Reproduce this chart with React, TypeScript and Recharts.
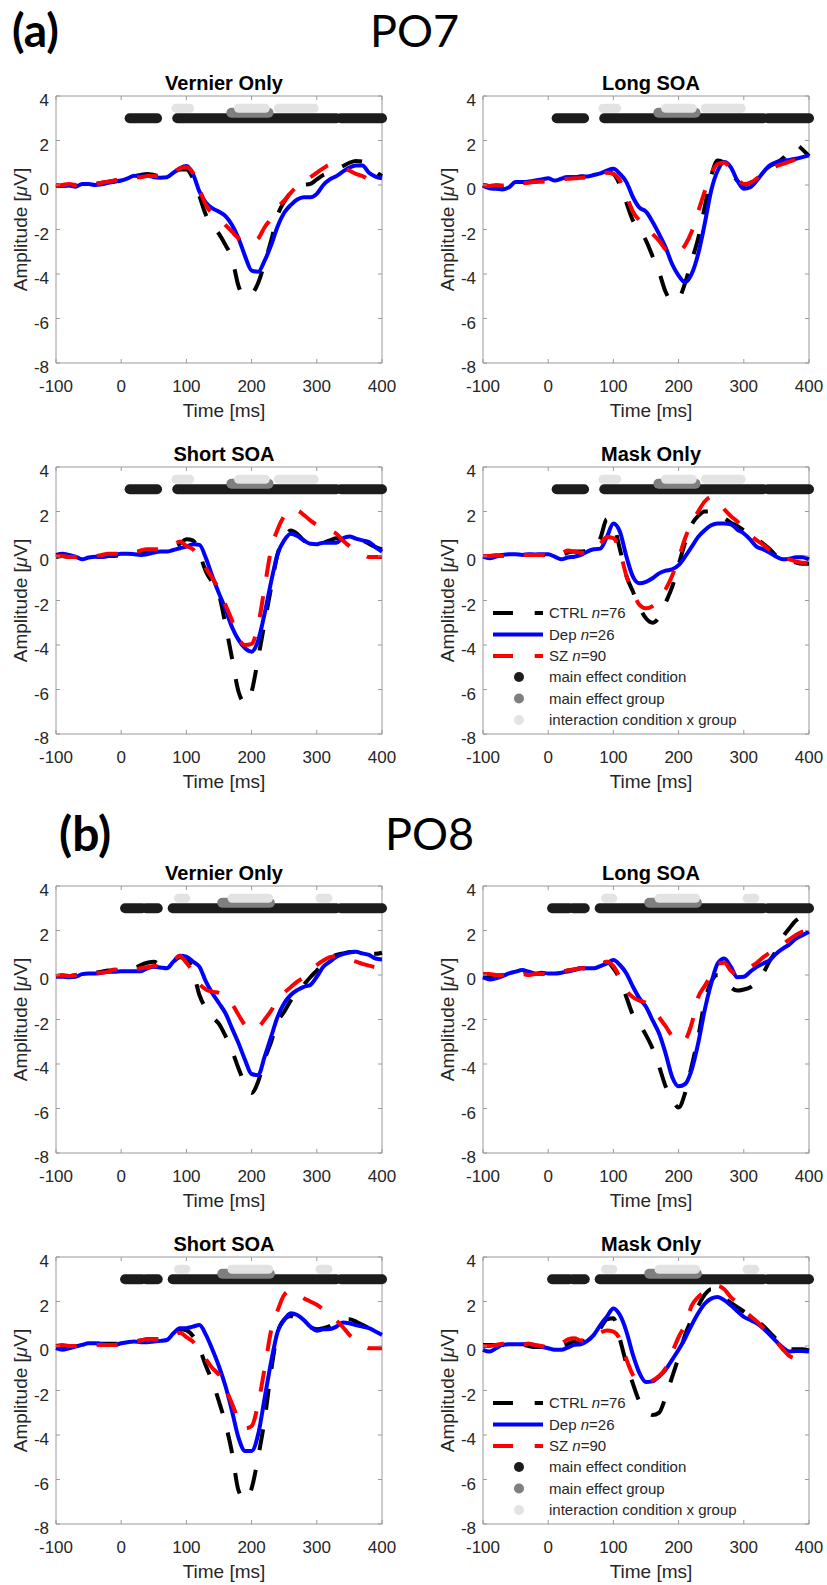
import React from "react";
import { LineChart, Line, XAxis, YAxis, ReferenceArea } from "recharts";

// time axis (ms), one sample every 10 ms
const TIME = [
  -100, -90, -80, -70, -60, -50, -40, -30, -20, -10,
  0, 10, 20, 30, 40, 50, 60, 70, 80, 90,
  100, 110, 120, 130, 140, 150, 160, 170, 180, 190,
  200, 210, 220, 230, 240, 250, 260, 270, 280, 290,
  300, 310, 320, 330, 340, 350, 360, 370, 380, 390,
  400,
];
const X_TICKS = [-100, 0, 100, 200, 300, 400];
const Y_TICKS = [-8, -6, -4, -2, 0, 2, 4];

// ---------- PO7 ----------
const po7VernierCtrl = [
  -0.05, -0.05, 0, -0.05, 0, 0.05, 0.05, 0.1, 0.15, 0.2,
  0.25, 0.3, 0.4, 0.45, 0.5, 0.45, 0.4, 0.4, 0.55, 0.7,
  0.7, 0.3, -0.5, -1.35, -1.8, -2.2, -2.7, -3.3, -4.55, -5.0,
  -4.9, -4.4, -3.5, -2.5, -1.35, -0.75, -0.35, -0.1, 0.0, 0.05,
  0.25, 0.45, 0.55, 0.7, 0.85, 1.0, 1.08, 1.05, 0.9, 0.6,
  0.4,
];
const po7VernierDep = [
  0, -0.05, -0.02, -0.08, 0.05, 0.05, 0, 0.03, 0.1, 0.15,
  0.2, 0.3, 0.42, 0.38, 0.42, 0.35, 0.33, 0.35, 0.55, 0.75,
  0.85, 0.5, -0.3, -0.8, -1.05, -1.2, -1.4, -1.8, -2.4, -3.2,
  -3.85, -3.9, -3.4, -2.7, -1.85, -1.25, -0.9, -0.65, -0.55, -0.55,
  -0.4, 0.0, 0.25, 0.4, 0.6, 0.78, 0.88, 0.88, 0.55, 0.38,
  0.3,
];
const po7VernierSz = [
  -0.05, 0, 0.05, 0, 0, 0.05, 0.05, 0.1, 0.15, 0.2,
  0.25, 0.3, 0.35, 0.35, 0.4, 0.4, 0.4, 0.4, 0.55, 0.75,
  0.8, 0.55, -0.2, -0.9, -1.3, -1.5, -1.8, -2.1, -2.4, -2.6,
  -2.55, -2.4, -1.9, -1.5, -1.0, -0.7, -0.35, -0.05, 0.15, 0.35,
  0.55, 0.75, 0.9, 0.9, 0.8, 0.65, 0.5, 0.4, 0.25, 0.1,
  0.05,
];

const po7LongCtrl = [
  0, -0.05, -0.1, -0.1, 0, 0.1, 0.1, 0.15, 0.15, 0.2,
  0.25, 0.25, 0.3, 0.35, 0.35, 0.38, 0.38, 0.42, 0.48, 0.6,
  0.5, 0.0, -0.8, -1.6, -2.0, -2.5, -3.2, -3.9, -4.8, -5.2,
  -5.1, -4.4, -3.4, -2.4, -1.0, 0.4, 1.1, 1.0, 0.6, 0.2,
  0.0, 0.1, 0.3, 0.6, 0.85, 1.0, 1.2, 1.55, 1.8, 1.6,
  1.3,
];
const po7LongDep = [
  -0.02, -0.15, -0.17, -0.2, -0.1, 0.13, 0.13, 0.15, 0.2, 0.25,
  0.3, 0.2, 0.28, 0.35, 0.35, 0.38, 0.38, 0.45, 0.52, 0.65,
  0.73, 0.5, 0.13, -0.55, -1.02, -1.2, -1.65, -2.2, -2.8, -3.55,
  -4.07, -4.37, -4.0, -3.1, -1.75, -0.25, 0.65, 1.03, 0.8, 0.2,
  -0.17, -0.1, 0.2, 0.58, 0.88, 1.03, 1.1, 1.13, 1.18, 1.25,
  1.33,
];
const po7LongSz = [
  0, -0.05, 0, -0.02, 0, 0.05, 0.08, 0.1, 0.15, 0.15,
  0.2, 0.2, 0.25, 0.28, 0.3, 0.32, 0.35, 0.4, 0.45, 0.55,
  0.5, 0.2, -0.5, -1.2, -1.6, -1.9, -2.2, -2.5, -2.9, -3.1,
  -3.0, -2.7, -2.1, -1.2, -0.3, 0.5, 0.95, 1.0, 0.7, 0.3,
  0.05, 0.1, 0.3, 0.5, 0.7, 0.85, 0.95, 1.05, 1.15, 1.25,
  1.3,
];

const po7ShortCtrl = [
  -0.05, 0, -0.05, -0.05, -0.05, 0, 0, 0, 0, 0,
  0.05, 0.1, 0.15, 0.2, 0.2, 0.2, 0.25, 0.3, 0.4, 0.55,
  0.75, 0.7, 0.1, -0.7, -1.2, -1.75, -3.1, -4.6, -6.1, -6.6,
  -6.1, -4.6, -3.0, -1.4, 0.1, 0.8, 1.15, 1.0, 0.7, 0.55,
  0.55, 0.6, 0.7, 0.8, 0.75, 0.7, 0.75, 0.7, 0.55, 0.4,
  0.3,
];
const po7ShortDep = [
  0.05, 0.1, 0.05, -0.03, -0.15, -0.07, -0.03, -0.05, 0, 0.05,
  0.1, 0.1, 0.08, 0.05, 0.08, 0.15, 0.2, 0.2, 0.27, 0.35,
  0.42, 0.53, 0.5, -0.1, -0.93, -1.68, -2.4, -3.2, -3.77, -4.15,
  -4.3, -3.8, -2.58, -1.15, 0.1, 0.7, 1.0, 0.9, 0.7, 0.55,
  0.53, 0.6, 0.6, 0.6, 0.8, 0.88, 0.78, 0.7, 0.63, 0.4,
  0.2,
];
const po7ShortSz = [
  0, 0, -0.05, -0.05, -0.05, 0, 0, 0.05, 0.1, 0.1,
  0.1, 0.1, 0.15, 0.25, 0.3, 0.3, 0.3, 0.35, 0.5, 0.65,
  0.45, 0.3, -0.1, -0.55, -1.0, -1.5, -2.2, -2.9, -3.7, -4.0,
  -3.95, -3.1, -1.4, 0.3, 1.2, 1.8, 2.1, 2.05, 1.85, 1.6,
  1.4, 1.3, 1.15, 1.0, 0.7, 0.45, 0.3, 0.1, -0.05, -0.05,
  -0.05,
];

const po7MaskCtrl = [
  0, 0, 0, 0.05, 0.05, 0.05, 0.05, 0.05, 0.05, 0.05,
  0.05, 0.0, 0.05, 0.15, 0.2, 0.2, 0.25, 0.35, 0.8, 1.65,
  1.4, 0.3, -0.9, -1.6, -2.3, -2.8, -3.0, -2.75, -2.1, -1.4,
  -0.4, 0.6, 1.4, 1.8, 2.0, 2.0, 1.9, 1.7, 1.5, 1.35,
  1.15, 0.95, 0.75, 0.55, 0.3, 0.0, -0.15, -0.2, -0.3, -0.35,
  -0.35,
];
const po7MaskDep = [
  -0.03, -0.1, -0.03, 0.05, 0.08, 0.08, 0.05, 0.08, 0.07, 0.08,
  0.08, -0.03, -0.15, -0.07, -0.03, 0.05, 0.2, 0.3, 0.33, 0.86,
  1.46, 1.09, -0.03, -0.93, -1.23, -1.16, -1.0, -0.78, -0.66, -0.6,
  -0.41, -0.03, 0.41, 0.86, 1.16, 1.38, 1.46, 1.46, 1.43, 1.19,
  1.01, 0.74, 0.41, 0.3, 0.15, -0.03, -0.15, -0.12, -0.06, -0.06,
  -0.15,
];
const po7MaskSz = [
  0, 0, 0.05, 0, 0.05, 0.05, 0.05, 0.05, 0.05, 0.05,
  0.0, 0.0, 0.1, 0.25, 0.2, 0.15, 0.15, 0.25, 0.55, 0.85,
  0.8, 0.2, -0.9, -1.6, -2.2, -2.35, -2.25, -1.95, -1.5, -0.9,
  -0.1, 0.8, 1.5, 2.0, 2.45, 2.65, 2.5, 2.1, 1.8, 1.55,
  1.25, 0.95, 0.7, 0.5, 0.25, 0.0, -0.1, -0.15, -0.25, -0.3,
  -0.3,
];

// ---------- PO8 ----------
const po8VernierCtrl = [
  -0.05, -0.05, -0.05, 0, 0.05, 0.05, 0.1, 0.15, 0.2, 0.2,
  0.2, 0.2, 0.3, 0.45, 0.55, 0.6, 0.45, 0.4, 0.6, 0.8,
  0.7, 0.2, -0.9, -1.5, -1.9, -2.2, -2.75, -3.4, -4.2, -4.9,
  -5.3, -4.8, -3.8, -3.0, -2.1, -1.65, -1.15, -0.8, -0.45, -0.1,
  0.2, 0.5, 0.75, 0.9, 0.97, 1.03, 1.05, 1.0, 0.95, 0.95,
  1.0,
];
const po8VernierDep = [
  -0.08, -0.08, -0.1, -0.08, 0.04, 0.07, 0.07, 0.1, 0.15, 0.15,
  0.17, 0.17, 0.17, 0.17, 0.3, 0.37, 0.34, 0.3, 0.6, 0.86,
  0.82, 0.6, 0.37, -0.3, -0.83, -1.27, -1.72, -2.4, -3.07, -3.82,
  -4.45, -4.5, -3.67, -2.77, -1.87, -1.27, -0.9, -0.68, -0.53, -0.45,
  -0.08, 0.37, 0.6, 0.82, 0.94, 1.01, 1.04, 0.97, 0.9, 0.74,
  0.7,
];
const po8VernierSz = [
  -0.05, 0, -0.05, 0, 0.05, 0.05, 0.1, 0.1, 0.15, 0.25,
  0.2, 0.2, 0.25, 0.3, 0.35, 0.4, 0.4, 0.45, 0.65, 0.85,
  0.55, 0.15, -0.4, -0.65, -0.75, -0.8, -0.95, -1.3, -1.8, -2.25,
  -2.45, -2.35, -2.0, -1.6, -1.1, -0.8, -0.55, -0.3, -0.1, 0.2,
  0.45, 0.65, 0.8, 0.85, 0.8, 0.7, 0.6, 0.5, 0.42, 0.35,
  0.3,
];

const po8LongCtrl = [
  -0.1, -0.1, -0.05, 0, 0.05, 0.1, 0.15, 0.1, 0.05, 0.05,
  0.05, 0.1, 0.15, 0.2, 0.25, 0.3, 0.3, 0.35, 0.45, 0.6,
  0.3, -0.2, -1.0, -1.8, -2.2, -2.7, -3.3, -4.1, -5.0, -5.6,
  -5.95, -5.3, -4.1, -2.8, -1.2, -0.3, 0.0, -0.2, -0.55, -0.7,
  -0.65, -0.55, -0.3, 0.1, 0.65, 1.1, 1.7, 2.1, 2.45, 2.6,
  2.6,
];
const po8LongDep = [
  -0.1, -0.2, -0.15, -0.05, 0.07, 0.15, 0.22, 0.15, 0.07, 0.1,
  0.07, 0.07, 0.1, 0.15, 0.22, 0.3, 0.3, 0.3, 0.4, 0.52,
  0.67, 0.45, 0.07, -0.53, -1.05, -1.43, -2.03, -2.62, -3.52, -4.57,
  -5.0, -4.9, -4.26, -3.07, -1.58, -0.38, 0.52, 0.74, 0.37, -0.1,
  -0.08, 0.15, 0.37, 0.52, 0.67, 0.97, 1.19, 1.38, 1.64, 1.79,
  1.94,
];
const po8LongSz = [
  0.05, 0.05, 0, 0, 0.05, 0.05, 0.05, 0.0, 0.05, 0.05,
  0.05, 0.1, 0.15, 0.2, 0.25, 0.3, 0.3, 0.35, 0.45, 0.6,
  0.4, -0.1, -0.7, -1.0, -1.15, -1.25, -1.5, -1.9, -2.3, -2.75,
  -3.0, -2.9, -2.2, -1.0, -0.5, 0.0, 0.5, 0.55, 0.2, 0.02,
  0.15, 0.35, 0.55, 0.8, 1.0, 1.2, 1.4, 1.6, 1.8, 1.95,
  2.0,
];

const po8ShortCtrl = [
  -0.1, -0.05, 0, 0, 0.05, 0.1, 0.12, 0.1, 0.1, 0.1,
  0.12, 0.15, 0.2, 0.25, 0.3, 0.3, 0.3, 0.35, 0.5, 0.75,
  0.7, 0.45, -0.1, -0.9, -1.6, -2.5, -3.5, -4.8, -6.5, -6.9,
  -6.4, -5.0, -3.3, -1.1, 0.6, 1.2, 1.35, 1.2, 1.05, 0.85,
  0.75, 0.8, 0.9, 1.1, 1.2, 1.2, 1.1, 0.95, 0.8, 0.65,
  0.5,
];
const po8ShortDep = [
  -0.1, -0.17, -0.1, -0.03, 0.05, 0.12, 0.12, 0.08, 0.05, 0.05,
  0.12, 0.17, 0.2, 0.17, 0.17, 0.2, 0.23, 0.27, 0.57, 0.8,
  0.8, 0.87, 0.94, 0.5, -0.17, -0.92, -1.81, -2.93, -4.13, -4.72,
  -4.72, -3.98, -2.34, -0.7, 0.65, 1.17, 1.47, 1.39, 1.17, 0.87,
  0.69, 0.75, 0.76, 0.87, 1.06, 1.02, 0.94, 0.87, 0.8, 0.65,
  0.5,
];
const po8ShortSz = [
  0.0, 0.05, 0.0, 0.0, 0.05, 0.05, 0.05, 0.05, 0.05, 0.05,
  0.1, 0.15, 0.2, 0.25, 0.3, 0.3, 0.3, 0.35, 0.45, 0.6,
  0.4, 0.2, -0.2, -0.6, -1.0, -1.3, -1.9, -2.6, -3.3, -3.7,
  -3.6, -2.6, -1.0, 0.7, 1.6, 2.3, 2.5, 2.35, 2.15, 2.0,
  1.85, 1.65, 1.45, 1.15, 0.85, 0.5, 0.25, 0.05, -0.1, -0.1,
  -0.1,
];

const po8MaskCtrl = [
  0.05, 0.05, 0.05, 0.05, 0.05, 0.05, 0.05, 0.0, -0.05, -0.05,
  -0.05, -0.05, 0.0, 0.1, 0.2, 0.2, 0.3, 0.5, 0.8, 1.2,
  1.25, 0.3, -0.8, -1.7, -2.5, -2.9, -3.1, -3.0, -2.3, -1.4,
  -0.5, 0.5, 1.2, 1.8, 2.3, 2.55, 2.45, 2.15, 1.95, 1.75,
  1.55, 1.35, 1.15, 0.9, 0.6, 0.3, 0.0, -0.15, -0.15, -0.15,
  -0.2,
];
const po8MaskDep = [
  -0.17, -0.25, -0.1, 0.05, 0.08, 0.08, 0.08, 0.1, 0.02, -0.03,
  -0.1, -0.17, -0.17, -0.07, 0.05, 0.08, 0.23, 0.5, 0.94, 1.32,
  1.69, 1.39, 0.65, -0.4, -1.22, -1.62, -1.59, -1.37, -1.07, -0.62,
  -0.17, 0.35, 0.94, 1.47, 1.9, 2.13, 2.2, 2.06, 1.83, 1.56,
  1.31, 1.17, 1.02, 0.79, 0.5, 0.2, -0.07, -0.25, -0.22, -0.22,
  -0.25,
];
const po8MaskSz = [
  0.0, 0.0, 0.05, 0.1, 0.1, 0.05, 0.05, 0.1, 0.05, 0.0,
  -0.05, 0.0, 0.1, 0.3, 0.35, 0.25, 0.3, 0.45, 0.6, 0.7,
  0.65, 0.3, -0.6, -1.3, -1.55, -1.65, -1.55, -1.35, -1.0, -0.3,
  0.4, 0.95, 1.8, 2.2, 2.45, 2.65, 2.7, 2.55, 2.2, 1.95,
  1.6, 1.35, 1.1, 0.8, 0.5, 0.2, -0.15, -0.45, -0.55, -0.5,
  -0.45,
];

// significant time windows [start, end] in ms
const po7Condition = [[13, 55], [86, 330], [337, 400]];
const po7Group = [[169, 226]];
const po7Interaction = [[84, 105], [180, 221], [241, 296]];
const po8Condition = [[6, 32], [38, 56], [79, 330], [337, 400]];
const po8Group = [[155, 228]];
const po8Interaction = [[88, 99], [170, 226], [305, 317]];

const GROUPS = [
  { key: "ctrl", name: "CTRL", n: 76 },
  { key: "dep", name: "Dep", n: 26 },
  { key: "sz", name: "SZ", n: 90 },
];
const EFFECTS = [
  { key: "condition", label: "main effect condition", level: 3 },
  { key: "group", label: "main effect group", level: 3.25 },
  { key: "interaction", label: "interaction condition x group", level: 3.45 },
];

const LINE_STYLE: any = {
  ctrl: { stroke: "#000000", dash: "21 20" },
  dep: { stroke: "#0000ff", dash: undefined },
  sz: { stroke: "#ff0000", dash: "21 20" },
};
const EFFECT_STYLE: any = {
  condition: { color: "#1c1c1c", width: 10 },
  group: { color: "#7f7f7f", width: 10 },
  interaction: { color: "#e3e3e3", width: 9 },
};

const FONT = "'Liberation Sans', Arial, Helvetica, sans-serif";
const HEAD_FONT = "Lato, 'Open Sans', sans-serif";
const TXT = "#262626";
const BOX = "#9a9a9a";

const PLOT_W = 326;
const PLOT_H = 267;
const PAD_L = 50;
const PAD_T = 30;
const CHART_W = PAD_L + PLOT_W + 20;
const CHART_H = PAD_T + PLOT_H + 40;
const TICK = 4;

const PO7_BARS = { condition: po7Condition, group: po7Group, interaction: po7Interaction };
const PO8_BARS = { condition: po8Condition, group: po8Group, interaction: po8Interaction };

const PANELS = [
  { title: "Vernier Only", left: 56, top: 96, ctrl: po7VernierCtrl, dep: po7VernierDep, sz: po7VernierSz, bars: PO7_BARS, legend: false },
  { title: "Long SOA", left: 483, top: 96, ctrl: po7LongCtrl, dep: po7LongDep, sz: po7LongSz, bars: PO7_BARS, legend: false },
  { title: "Short SOA", left: 56, top: 467, ctrl: po7ShortCtrl, dep: po7ShortDep, sz: po7ShortSz, bars: PO7_BARS, legend: false },
  { title: "Mask Only", left: 483, top: 467, ctrl: po7MaskCtrl, dep: po7MaskDep, sz: po7MaskSz, bars: PO7_BARS, legend: true },
  { title: "Vernier Only", left: 56, top: 886, ctrl: po8VernierCtrl, dep: po8VernierDep, sz: po8VernierSz, bars: PO8_BARS, legend: false },
  { title: "Long SOA", left: 483, top: 886, ctrl: po8LongCtrl, dep: po8LongDep, sz: po8LongSz, bars: PO8_BARS, legend: false },
  { title: "Short SOA", left: 56, top: 1257, ctrl: po8ShortCtrl, dep: po8ShortDep, sz: po8ShortSz, bars: PO8_BARS, legend: false },
  { title: "Mask Only", left: 483, top: 1257, ctrl: po8MaskCtrl, dep: po8MaskDep, sz: po8MaskSz, bars: PO8_BARS, legend: true },
];

// MATLAB-style ticks: pointing inward, on both sides of the box
const XTick = (props: any) => {
  const { x, y, payload } = props;
  return (
    <g>
      <line x1={x} x2={x} y1={y} y2={y - TICK} stroke={BOX} />
      <line x1={x} x2={x} y1={y - PLOT_H} y2={y - PLOT_H + TICK} stroke={BOX} />
      <text x={x} y={y + 28.5} textAnchor="middle" fontSize={17} fontFamily={FONT} fill={TXT}>
        {payload.value}
      </text>
    </g>
  );
};

const YTick = (props: any) => {
  const { x, y, payload } = props;
  return (
    <g>
      <line x1={x} x2={x + TICK} y1={y} y2={y} stroke={BOX} />
      <line x1={x + PLOT_W - TICK} x2={x + PLOT_W} y1={y} y2={y} stroke={BOX} />
      <text x={x - 7} y={y + 10} textAnchor="end" fontSize={17} fontFamily={FONT} fill={TXT}>
        {payload.value}
      </text>
    </g>
  );
};

const Panel = ({ cfg }: { cfg: any }) => {
  const rows = TIME.map((t, i) => ({ t, ctrl: cfg.ctrl[i], dep: cfg.dep[i], sz: cfg.sz[i] }));
  return (
    <div style={{ position: "absolute", left: cfg.left - PAD_L, top: cfg.top - PAD_T }}>
      <LineChart
        width={CHART_W}
        height={CHART_H}
        data={rows}
        margin={{ top: PAD_T, right: 20, bottom: 10, left: PAD_L - 40 }}
      >
        <XAxis
          dataKey="t"
          type="number"
          domain={[-100, 400]}
          ticks={X_TICKS}
          tick={XTick}
          tickSize={0}
          tickMargin={0}
          tickLine={false}
          axisLine={false}
          height={30}
        />
        <YAxis
          type="number"
          domain={[-8, 4]}
          ticks={Y_TICKS}
          tick={YTick}
          tickSize={0}
          tickMargin={0}
          tickLine={false}
          axisLine={false}
          width={40}
        />
        <ReferenceArea x1={-100} x2={400} y1={-8} y2={4} fill="none" stroke={BOX} strokeWidth={1} />
        {EFFECTS.map((eff) =>
          cfg.bars[eff.key].map(([a, b]: number[], i: number) => (
            <Line
              key={`${eff.key}-${i}`}
              data={[{ t: a, v: eff.level }, { t: b, v: eff.level }]}
              dataKey="v"
              type="linear"
              stroke={EFFECT_STYLE[eff.key].color}
              strokeWidth={EFFECT_STYLE[eff.key].width}
              strokeLinecap="round"
              dot={false}
              isAnimationActive={false}
            />
          ))
        )}
        {GROUPS.map((g) => (
          <Line
            key={g.key}
            dataKey={g.key}
            name={`${g.name} n=${g.n}`}
            type="monotone"
            stroke={LINE_STYLE[g.key].stroke}
            strokeDasharray={LINE_STYLE[g.key].dash}
            strokeWidth={4}
            dot={false}
            isAnimationActive={false}
          />
        ))}
      </LineChart>
    </div>
  );
};

const GroupLegend = ({ left, top }: { left: number; top: number }) => {
  const rowY = [146, 167.5, 189, 210, 231.5, 253];
  return (
    <svg
      style={{ position: "absolute", left, top, pointerEvents: "none" }}
      width={260}
      height={270}
    >
      {GROUPS.map((g, i) => (
        <g key={g.key}>
          <line
            x1={10}
            x2={60}
            y1={rowY[i]}
            y2={rowY[i]}
            stroke={LINE_STYLE[g.key].stroke}
            strokeWidth={4}
            strokeDasharray={LINE_STYLE[g.key].dash ? "20 21.7" : undefined}
          />
          <text x={66} y={rowY[i] + 5} fontSize={15} fontFamily={FONT} fill={TXT}>
            {g.name} <tspan fontStyle="italic">n</tspan>={g.n}
          </text>
        </g>
      ))}
      {EFFECTS.map((eff, j) => (
        <g key={eff.key}>
          <circle cx={36} cy={rowY[3 + j]} r={5} fill={EFFECT_STYLE[eff.key].color} />
          <text x={66} y={rowY[3 + j] + 5} fontSize={15} fontFamily={FONT} fill={TXT}>
            {eff.label}
          </text>
        </g>
      ))}
    </svg>
  );
};

export default function App() {
  return (
    <div style={{ position: "absolute", left: 0, top: 0, width: 827, height: 1585, background: "#fff" }}>
      <svg
        style={{ position: "absolute", left: 0, top: 0, pointerEvents: "none" }}
        width={827}
        height={1585}
      >
        <text x={12} y={47} fontSize={46} fontWeight="bold" fontFamily={HEAD_FONT} fill="#000">
          (a)
        </text>
        <text x={370} y={47} fontSize={45} fontFamily={HEAD_FONT} fill="#000">
          PO7
        </text>
        <text x={59} y={851} fontSize={48} fontWeight="bold" fontFamily={HEAD_FONT} fill="#000">
          (b)
        </text>
        <text x={385} y={850} fontSize={45} fontFamily={HEAD_FONT} fill="#000">
          PO8
        </text>
        {PANELS.map((p, i) => {
          const cx = p.left + PLOT_W / 2 + 5;
          const cy = p.top + PLOT_H / 2;
          return (
            <g key={i}>
              <text x={cx} y={p.top - 6} textAnchor="middle" fontSize={20} fontWeight="bold" fontFamily={FONT} fill="#000">
                {p.title}
              </text>
              <text x={cx} y={p.top + PLOT_H + 54} textAnchor="middle" fontSize={19} fontFamily={FONT} fill={TXT}>
                Time [ms]
              </text>
              <text
                x={p.left - 29}
                y={cy}
                textAnchor="middle"
                fontSize={19}
                fontFamily={FONT}
                fill={TXT}
                transform={`rotate(-90 ${p.left - 29} ${cy})`}
              >
                Amplitude [<tspan fontStyle="italic">μ</tspan>V]
              </text>
            </g>
          );
        })}
      </svg>
      {PANELS.map((p, i) => (
        <Panel key={i} cfg={p} />
      ))}
      {PANELS.filter((p) => p.legend).map((p, i) => (
        <GroupLegend key={i} left={p.left} top={p.top} />
      ))}
    </div>
  );
}
